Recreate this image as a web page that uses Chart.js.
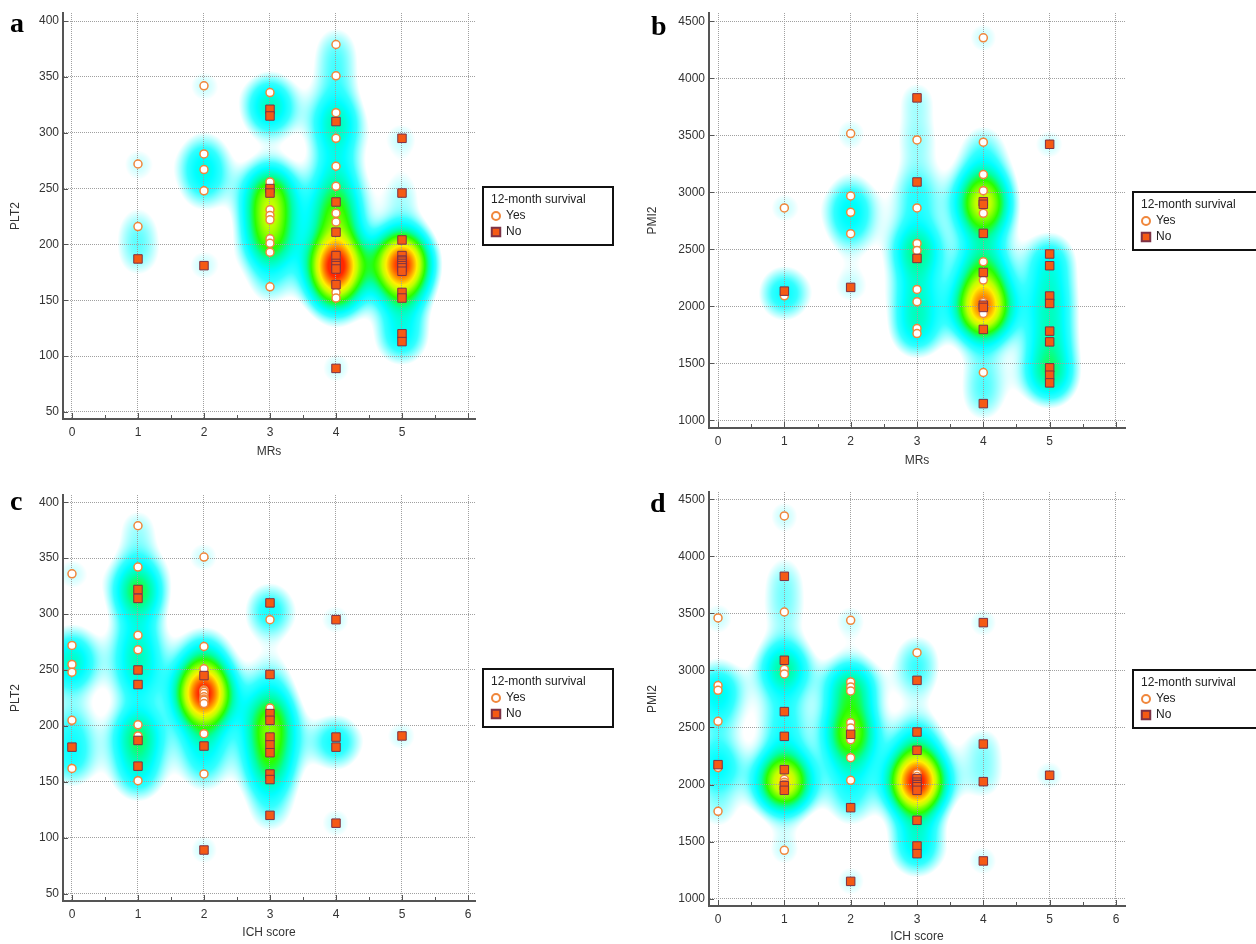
<!DOCTYPE html>
<html>
<head>
<meta charset="utf-8">
<script src="https://cdn.jsdelivr.net/npm/chart.js@4.4.0/dist/chart.umd.min.js"></script>
<style>
  html, body { margin: 0; padding: 0; background: #fff; overflow: hidden; }
  body { width: 1256px; height: 944px; position: relative; }
  canvas { position: absolute; }
  .tag { position: absolute; font: bold 28px "Liberation Serif", "Times New Roman", serif; line-height: 28px; color: #000; }
</style>
</head>
<body>
<canvas id="chartA" width="640" height="470" style="left:0;top:0"></canvas>
<canvas id="chartB" width="616" height="480" style="left:640px;top:0"></canvas>
<canvas id="chartC" width="640" height="464" style="left:0;top:480px"></canvas>
<canvas id="chartD" width="616" height="464" style="left:640px;top:480px"></canvas>
<div class="tag" style="left:10px;top:9px">a</div>
<div class="tag" style="left:651px;top:12px">b</div>
<div class="tag" style="left:10px;top:487px">c</div>
<div class="tag" style="left:650px;top:489px">d</div>
<script>
// values grouped by x category (index = MRs or ICH score)
const plt2ByMrsYes = [[], [272, 216], [342, 281, 267, 248],
    [336, 256, 231, 226, 222, 205, 201, 193, 162],
    [379, 351, 318, 295, 270, 252, 228, 220, 188, 184, 179, 157, 152], []];
const plt2ByMrsNo = [[], [187], [181], [321, 315, 250, 246],
    [310, 238, 211, 190, 183, 181, 178, 164, 89],
    [295, 246, 204, 190, 186, 185, 183, 181, 179, 176, 157, 152, 120, 113]];

const pmi2ByMrsYes = [[], [2863, 2092], [3516, 2968, 2825, 2637],
    [3460, 2863, 2552, 2490, 2148, 2040, 1805, 1761],
    [4356, 3440, 3156, 3015, 2892, 2816, 2391, 2230, 2034, 2000, 1981, 1937, 1419], []];
const pmi2ByMrsNo = [[], [2133], [2166], [3829, 3091, 2420],
    [2918, 2895, 2640, 2297, 2010, 1990, 1797, 1146],
    [3422, 2459, 2356, 2090, 2025, 1782, 1688, 1460, 1395, 1328]];

const plt2ByIchYes = [[336, 272, 255, 248, 205, 162],
    [379, 342, 318, 281, 268, 201, 191, 151],
    [351, 271, 251, 232, 231, 229, 226, 224, 223, 220, 193, 157],
    [295, 216], [], []];
const plt2ByIchNo = [[181], [322, 314, 250, 237, 187, 164], [245, 182, 89],
    [310, 246, 211, 205, 190, 183, 176, 157, 152, 120],
    [295, 190, 181, 113], [191]];

const pmi2ByIchYes = [[3460, 2867, 2826, 2554, 2148, 1765],
    [4354, 3512, 3010, 2969, 2045, 2020, 2002, 1423],
    [3439, 2899, 2855, 2820, 2542, 2495, 2393, 2235, 2037],
    [3156, 2095, 2070], [], []];
const pmi2ByIchNo = [[2174], [3825, 3089, 2639, 2422, 2130, 1990, 1949], [2440, 1797, 1151],
    [2913, 2460, 2300, 2051, 2020, 2000, 1999, 1980, 1949, 1686, 1461, 1394],
    [3419, 2355, 2025, 1330], [2081]];

const plt2Ticks = [50, 100, 150, 200, 250, 300, 350, 400];
const pmi2Ticks = [1000, 1500, 2000, 2500, 3000, 3500, 4000, 4500];

const legendTitle = '12-month survival';
const seriesNames = ['Yes', 'No'];

const FONT = '"Liberation Sans", Arial, sans-serif';

function toPoints(groups) {
    const pts = [];
    groups.forEach((vals, cat) => vals.forEach(v => pts.push({x: cat, y: v})));
    return pts;
}

// density colour ramp: white -> cyan -> green -> yellow -> red
const ramp = [
    [0.8, 0, 255, 255, 0],
    [1.1, 0, 255, 255, 0.3],
    [1.6, 0, 255, 255, 0.8],
    [2.1, 0, 255, 255, 1],
    [2.9, 0, 255, 170, 1],
    [3.8, 40, 255, 0, 1],
    [5.0, 190, 255, 0, 1],
    [5.8, 255, 240, 0, 1],
    [6.8, 255, 140, 0, 1],
    [7.8, 255, 40, 0, 1]
];
function rampColor(d) {
    if (d <= ramp[0][0]) return null;
    for (let i = 1; i < ramp.length; i++) {
        if (d <= ramp[i][0]) {
            const a = ramp[i - 1], b = ramp[i];
            const t = (d - a[0]) / (b[0] - a[0]);
            return [a[1] + (b[1] - a[1]) * t, a[2] + (b[2] - a[2]) * t,
                    a[3] + (b[3] - a[3]) * t, a[4] + (b[4] - a[4]) * t];
        }
    }
    const l = ramp[ramp.length - 1];
    return [l[1], l[2], l[3], l[4]];
}

// kernel density background, drawn under the grid
const heatPlugin = {
    id: 'heat',
    beforeDraw(chart) {
        const {ctx, chartArea: area, scales} = chart;
        const w = Math.round(area.right - area.left), h = Math.round(area.bottom - area.top);
        const dens = new Float32Array(w * h);
        const sx = 19, sy = 20;
        chart.data.datasets.forEach(ds => ds.data.forEach(p => {
            const px = scales.x.getPixelForValue(p.x) - area.left;
            const py = scales.y.getPixelForValue(p.y) - area.top;
            const j0 = Math.max(0, Math.floor(py - 3.5 * sy)), j1 = Math.min(h, Math.ceil(py + 3.5 * sy));
            const i0 = Math.max(0, Math.floor(px - 3.5 * sx)), i1 = Math.min(w, Math.ceil(px + 3.5 * sx));
            for (let j = j0; j < j1; j++) {
                const dy = (j + 0.5 - py) / sy;
                const ey = Math.exp(-0.5 * dy * dy);
                for (let i = i0; i < i1; i++) {
                    const dx = (i + 0.5 - px) / sx;
                    dens[j * w + i] += ey * Math.exp(-0.5 * dx * dx);
                }
            }
        }));
        const off = document.createElement('canvas');
        off.width = w; off.height = h;
        const octx = off.getContext('2d');
        const img = octx.createImageData(w, h);
        for (let k = 0; k < w * h; k++) {
            const c = rampColor(dens[k]);
            if (!c) continue;
            img.data[k * 4] = c[0];
            img.data[k * 4 + 1] = c[1];
            img.data[k * 4 + 2] = c[2];
            img.data[k * 4 + 3] = Math.round(c[3] * 255);
        }
        octx.putImageData(img, 0, 0);
        ctx.drawImage(off, area.left, area.top);
    },
    // small inward ticks on both axes
    beforeDatasetsDraw(chart) {
        const {ctx, chartArea: area, scales} = chart;
        ctx.save();
        ctx.strokeStyle = '#555';
        ctx.lineWidth = 1;
        ctx.beginPath();
        for (let v = 0; v <= 6; v += 0.5) {
            const px = Math.round(scales.x.getPixelForValue(v)) + 0.5;
            ctx.moveTo(px, area.bottom);
            ctx.lineTo(px, area.bottom - (Number.isInteger(v) ? 6 : 4));
        }
        scales.y.ticks.forEach(t => {
            const py = Math.round(scales.y.getPixelForValue(t.value)) + 0.5;
            ctx.moveTo(area.left, py);
            ctx.lineTo(area.left + 5, py);
        });
        ctx.stroke();
        ctx.restore();
    }
};

// boxed legend to the right of the plot
const boxLegend = {
    id: 'boxLegend',
    afterDraw(chart) {
        const {ctx, chartArea: area} = chart;
        const bw = 130, bh = 58;
        const left = area.right + 8;
        const top = Math.round((area.top + area.bottom) / 2 - bh / 2);
        ctx.save();
        ctx.lineWidth = 2;
        ctx.strokeStyle = '#111';
        ctx.strokeRect(left, top, bw, bh);
        ctx.fillStyle = '#222';
        ctx.font = '12px ' + FONT;
        ctx.textBaseline = 'middle';
        ctx.fillText(legendTitle, left + 8, top + 13);
        chart.data.datasets.forEach((ds, i) => {
            const y = top + 29 + i * 16;
            ctx.fillStyle = ds.backgroundColor;
            ctx.strokeStyle = ds.borderColor;
            Chart.helpers.drawPoint(ctx, {
                pointStyle: ds.pointStyle, radius: ds.pointRadius,
                borderWidth: ds.borderWidth, rotation: 0
            }, left + 13, y);
            ctx.fillStyle = '#222';
            ctx.fillText(ds.label, left + 23, y);
        });
        ctx.restore();
    }
};

function makePanel(id, yesGroups, noGroups, o) {
    const ctx = document.getElementById(id).getContext('2d');
    return new Chart(ctx, {
        type: 'scatter',
        data: {
            datasets: [{
                label: seriesNames[0],
                data: toPoints(yesGroups),
                pointStyle: 'circle',
                pointRadius: 4,
                borderWidth: 1.5,
                backgroundColor: '#ffffff',
                borderColor: 'rgb(240, 135, 60)',
                order: 2
            }, {
                label: seriesNames[1],
                data: toPoints(noGroups),
                pointStyle: 'rect',
                pointRadius: 6,
                borderWidth: 1,
                backgroundColor: 'rgb(245, 90, 20)',
                borderColor: 'rgb(125, 50, 70)',
                order: 1
            }]
        },
        options: {
            responsive: false,
            animation: false,
            layout: {padding: o.padding},
            plugins: {legend: {display: false}, tooltip: {enabled: false}},
            scales: {
                x: {
                    type: 'linear',
                    min: -0.136,
                    max: o.xMax,
                    afterFit: s => { s.height = o.xAxisHeight; },
                    ticks: {
                        stepSize: 0.5,
                        includeBounds: false,
                        padding: 6,
                        color: '#333',
                        font: {family: FONT, size: 12},
                        maxRotation: 0,
                        autoSkip: false,
                        callback: v => (Number.isInteger(v) && v <= o.lastLabel) ? String(v) : ''
                    },
                    grid: {
                        drawTicks: false,
                        color: c => (c.tick && Number.isInteger(c.tick.value)) ? '#a0a0a0' : 'rgba(0,0,0,0)',
                        lineWidth: 1
                    },
                    border: {display: true, color: '#555', width: 2, dash: [1, 1]},
                    title: {
                        display: true, text: o.xTitle, color: '#333',
                        font: {family: FONT, size: 12},
                        padding: {top: 0, bottom: o.xTitlePad}
                    }
                },
                y: {
                    type: 'linear',
                    min: o.yMin,
                    max: o.yMax,
                    afterFit: s => { s.width = o.yAxisWidth; },
                    afterBuildTicks: s => { s.ticks = o.yTicks.map(v => ({value: v})); },
                    ticks: {
                        padding: 4,
                        color: '#333',
                        font: {family: FONT, size: 12},
                        callback: v => String(v)
                    },
                    grid: {drawTicks: false, color: '#a0a0a0', lineWidth: 1},
                    border: {display: true, color: '#555', width: 2, dash: [1, 1]},
                    title: {
                        display: true, text: o.yTitle, color: '#333',
                        font: {family: FONT, size: 12},
                        padding: {top: o.yTitlePad, bottom: 0}
                    }
                }
            }
        },
        plugins: [heatPlugin, boxLegend]
    });
}

makePanel('chartA', plt2ByMrsYes, plt2ByMrsNo, {
    xTitle: 'MRs', yTitle: 'PLT2', xMax: 6.106, lastLabel: 5,
    yMin: 43.7, yMax: 407.2, yTicks: plt2Ticks,
    padding: {left: 0, top: 13, right: 165, bottom: 0},
    yAxisWidth: 63, xAxisHeight: 51, xTitlePad: 11, yTitlePad: 8
});
makePanel('chartB', pmi2ByMrsYes, pmi2ByMrsNo, {
    xTitle: 'MRs', yTitle: 'PMI2', xMax: 6.136, lastLabel: 5,
    yMin: 932, yMax: 4574, yTicks: pmi2Ticks,
    padding: {left: 0, top: 13, right: 131, bottom: 0},
    yAxisWidth: 69, xAxisHeight: 52, xTitlePad: 12, yTitlePad: 5
});
makePanel('chartC', plt2ByIchYes, plt2ByIchNo, {
    xTitle: 'ICH score', yTitle: 'PLT2', xMax: 6.106, lastLabel: 6,
    yMin: 43.4, yMax: 406.5, yTicks: plt2Ticks,
    padding: {left: 0, top: 15, right: 165, bottom: 0},
    yAxisWidth: 63, xAxisHeight: 43, xTitlePad: 4, yTitlePad: 8
});
makePanel('chartD', pmi2ByIchYes, pmi2ByIchNo, {
    xTitle: 'ICH score', yTitle: 'PMI2', xMax: 6.136, lastLabel: 6,
    yMin: 935, yMax: 4564, yTicks: pmi2Ticks,
    padding: {left: 0, top: 12, right: 131, bottom: 0},
    yAxisWidth: 69, xAxisHeight: 38, xTitlePad: 0, yTitlePad: 5
});
</script>
</body>
</html>
